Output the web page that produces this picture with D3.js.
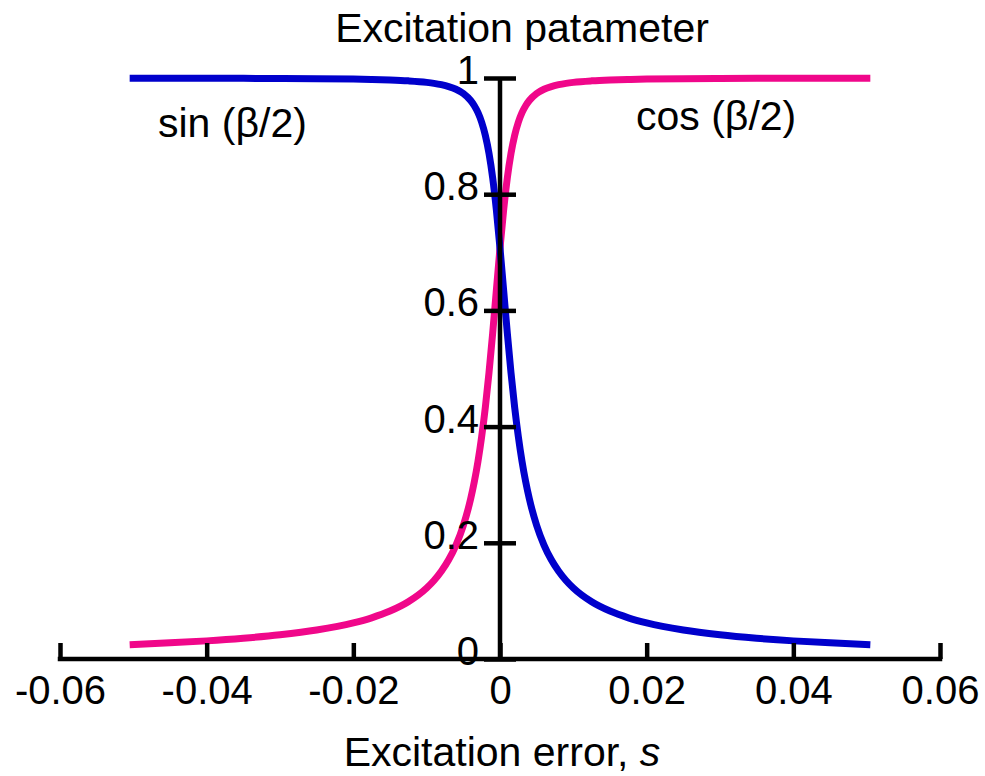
<!DOCTYPE html>
<html>
<head>
<meta charset="utf-8">
<script src="https://cdn.jsdelivr.net/npm/d3@7"></script>
<style>
  html, body { margin: 0; padding: 0; background: #fff; }
  svg { display: block; }
  text { font-family: "Liberation Sans", Arial, Helvetica, sans-serif; fill: #000; }
</style>
</head>
<body>
<svg id="chart" width="985" height="776"></svg>
<script>
// ---- data ----
const sValues = [-0.0505,-0.045,-0.04,-0.035,-0.03,-0.025,-0.02,-0.0175,-0.015,-0.0125,-0.01,-0.009,-0.008,-0.007,-0.006,-0.005,-0.004,-0.0035,-0.003,-0.0025,-0.002,-0.0015,-0.001,-0.0005,0,0.0005,0.001,0.0015,0.002,0.0025,0.003,0.0035,0.004,0.005,0.006,0.007,0.008,0.009,0.01,0.0125,0.015,0.0175,0.02,0.025,0.03,0.035,0.04,0.045,0.0505];
const sinHalfBeta = [0.9997,0.9996,0.9995,0.9994,0.9991,0.9988,0.9981,0.9975,0.9966,0.9951,0.9925,0.9908,0.9885,0.9853,0.9806,0.9732,0.9612,0.9523,0.9403,0.9239,0.9013,0.8702,0.8281,0.7733,0.7071,0.6340,0.5606,0.4927,0.4332,0.3827,0.3404,0.3052,0.2757,0.2298,0.1961,0.1707,0.1509,0.1351,0.1222,0.0985,0.0825,0.0709,0.0621,0.0498,0.0416,0.0357,0.0312,0.0278,0.0247];
const cosHalfBeta = [0.0247,0.0278,0.0312,0.0357,0.0416,0.0498,0.0621,0.0709,0.0825,0.0985,0.1222,0.1351,0.1509,0.1707,0.1961,0.2298,0.2757,0.3052,0.3404,0.3827,0.4332,0.4927,0.5606,0.6340,0.7071,0.7733,0.8281,0.8702,0.9013,0.9239,0.9403,0.9523,0.9612,0.9732,0.9806,0.9853,0.9885,0.9908,0.9925,0.9951,0.9966,0.9975,0.9981,0.9988,0.9991,0.9994,0.9995,0.9996,0.9997];
const xTicks = [-0.06,-0.04,-0.02,0,0.02,0.04,0.06];
const yTicks = [0,0.2,0.4,0.6,0.8,1];
const xTickLabels = ["-0.06","-0.04","-0.02","0","0.02","0.04","0.06"];
const yTickLabels = ["0","0.2","0.4","0.6","0.8","1"];
const titleText = "Excitation patameter";
const xLabelText = "Excitation error, ";
const xLabelVar = "s";
const seriesNames = ["sin (\u03B2/2)", "cos (\u03B2/2)"];
const seriesColors = ["#0000cc", "#f0078a"];

// ---- layout ----
const svg = d3.select("#chart");
const x = d3.scaleLinear().domain([-0.06, 0.06]).range([60, 940]);
const y = d3.scaleLinear().domain([0, 1]).range([659, 78]);
const axisW = 4.5;

const line = d3.line().x(d => x(d[0])).y(d => y(d[1])).curve(d3.curveMonotoneX);

// curves
const series = [sinHalfBeta, cosHalfBeta];
[1, 0].forEach(i => {
  svg.append("path")
    .datum(sValues.map((s, k) => [s, series[i][k]]))
    .attr("d", line)
    .attr("fill", "none")
    .attr("stroke", seriesColors[i])
    .attr("stroke-width", 7)
    .attr("stroke-linejoin", "round");
});

// x axis
const xAxis = d3.axisBottom(x)
  .tickValues(xTicks)
  .tickFormat((d, i) => xTickLabels[i])
  .tickSize(-16)
  .tickSizeOuter(0)
  .tickPadding(16.5);
const gx = svg.append("g").attr("transform", `translate(0,${y(0)})`).call(xAxis);
gx.select(".domain").attr("stroke", "#000").attr("stroke-width", axisW)
  .attr("d", `M${x(-0.06) - axisW/2},0H${x(0.06) + axisW/2}`);
gx.selectAll(".tick line").attr("stroke", "#000").attr("stroke-width", axisW);
gx.selectAll(".tick text").attr("font-size", 40).attr("fill", "#000")
  .attr("font-family", "\"Liberation Sans\", Arial, sans-serif");

// y axis
const yAxis = d3.axisLeft(y)
  .tickValues(yTicks)
  .tickFormat((d, i) => yTickLabels[i])
  .tickSize(16)
  .tickSizeOuter(0)
  .tickPadding(5);
const gy = svg.append("g").attr("transform", `translate(${x(0)},0)`).call(yAxis);
gy.select(".domain").attr("stroke", "#000").attr("stroke-width", axisW)
  .attr("d", `M0,${y(0)}V${y(1)}`);
gy.selectAll(".tick line").attr("stroke", "#000").attr("stroke-width", axisW)
  .attr("x1", -16).attr("x2", 16);
gy.selectAll(".tick text").attr("font-size", 40).attr("fill", "#000")
  .attr("dy", "5.5px")
  .attr("font-family", "\"Liberation Sans\", Arial, sans-serif");

// title
svg.append("text").attr("x", 522).attr("y", 42).attr("text-anchor", "middle")
  .attr("font-size", 41).text(titleText);

// x label
const xl = svg.append("text").attr("x", 502).attr("y", 766).attr("text-anchor", "middle")
  .attr("font-size", 41);
xl.append("tspan").text(xLabelText);
xl.append("tspan").attr("font-style", "italic").text(xLabelVar);

// series labels
svg.append("text").attr("x", 158).attr("y", 137).attr("font-size", 41).text(seriesNames[0]);
svg.append("text").attr("x", 636).attr("y", 130).attr("font-size", 41).text(seriesNames[1]);
</script>
</body>
</html>
